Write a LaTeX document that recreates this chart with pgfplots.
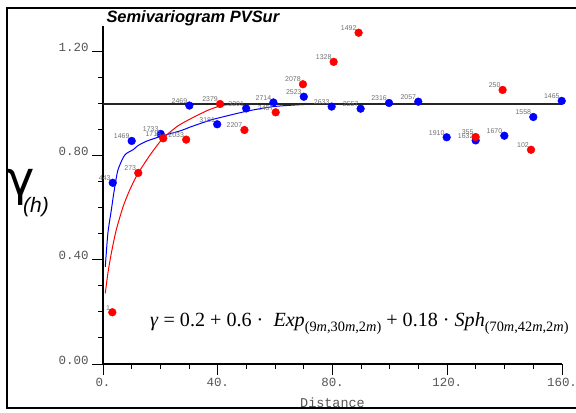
\documentclass[border=0pt]{standalone}
\usepackage{fontspec}
\usepackage{pgfplots}
\pgfplotsset{compat=1.18}
\newfontfamily\lsans{Liberation Sans}
\newfontfamily\lmono{Liberation Mono}
\newfontfamily\lserif{Liberation Serif}
\newfontfamily\dvsans{DejaVu Sans}
\definecolor{tickgray}{HTML}{555555}
\definecolor{labgray}{HTML}{707070}
\newcommand{\sub}[1]{\raisebox{-4.8bp}{\fontsize{14.4}{16}\selectfont #1}}
\pgfplotstableread{
x y lab
3.4 0.697 443
10.0 0.858 1469
20.1 0.885 1733
30.1 0.994 2469
39.8 0.922 3181
49.9 0.983 3201
59.4 1.006 2714
70.0 1.028 2523
79.7 0.990 2633
89.8 0.982 2557
99.7 1.004 2316
109.9 1.009 2057
119.8 0.872 1910
129.9 0.860 1632
139.9 0.878 1670
150.0 0.950 1558
159.9 1.012 1465
}\bluepts
\pgfplotstableread{
x y lab
3.25 0.199 1
12.3 0.735 273
21.0 0.868 1716
29.0 0.863 2033
40.8 1.000 2379
49.3 0.900 2207
60.2 0.968 2457
69.7 1.076 2078
80.4 1.162 1328
89.1 1.274 1492
129.9 0.873 355
139.3 1.054 250
149.2 0.824 102
}\redpts
\begin{document}
\begin{tikzpicture}
\path[use as bounding box] (0bp,0bp) rectangle (576bp,413bp);
\draw[line width=2bp] (7bp,5bp) rectangle (584bp,405bp);
\begin{axis}[
  at={(103bp,49bp)}, anchor=south west,
  scale only axis, width=459bp, height=338bp,
  xmin=0, xmax=160, ymin=0, ymax=1.3,
  axis x line=bottom, axis y line=left,
  axis line style={line width=1.6bp, -},
  tick align=outside,
  xtick={0,40,80,120,160}, xticklabels={0.,40.,80.,120.,160.},
  ytick={0,0.4,0.8,1.2}, yticklabels={0.00,0.40,0.80,1.20},
  minor x tick num=3, minor y tick num=3,
  major tick length=11bp, minor tick length=5bp,
  tick style={black, line width=1bp},
  ticklabel style={font=\lmono\fontsize{12.5}{14}\selectfont, text=tickgray},
  yticklabel style={anchor=base east},
  xlabel={Distance},
  xlabel style={font=\lmono\fontsize{13.5}{15}\selectfont, text=tickgray, at={(axis description cs:0.5,0)}, anchor=center, yshift=-39bp},
  clip=false,
  every node near coord/.append style={font=\lsans\fontsize{7}{8}\selectfont, text=labgray, anchor=south east, inner sep=0pt, xshift=-2bp, yshift=2bp},
]
\addplot[blue, line width=1bp, smooth, tension=0.4] coordinates {
(0.8,0.374) (1.7,0.503) (2.9,0.592) (3.8,0.660) (5.2,0.746) (7.6,0.804) (10.6,0.825) (12.2,0.840) (15.2,0.857) (20.3,0.876) (27.3,0.898) (30.3,0.911) (36.6,0.935) (39.8,0.945) (50,0.972) (59.4,0.990) (70,0.998) (80,1.0)};
\addplot[red, line width=1bp, smooth, tension=0.4] coordinates {
(0.8,0.272) (1.7,0.349) (2.9,0.426) (4.6,0.515) (7.0,0.605) (9.3,0.669) (12.2,0.733) (16.8,0.810) (20.9,0.868) (26,0.915) (30,0.940) (33,0.957) (37,0.978) (41,0.993) (45,0.999) (50,1.0) (60,1.0)};
\addplot[black!85, line width=1.2bp] coordinates {(0,1) (160,1)};
\addplot[only marks, mark=*, mark size=3.9pt, blue, mark options={draw=blue, fill=blue},
  nodes near coords, point meta=explicit symbolic] table[x=x, y=y, meta=lab] {\bluepts};
\addplot[only marks, mark=*, mark size=3.9pt, red, mark options={draw=red, fill=red},
  nodes near coords, point meta=explicit symbolic] table[x=x, y=y, meta=lab] {\redpts};
\end{axis}
\node[anchor=base west] at (103bp,390bp) {\lsans\bfseries\itshape\fontsize{16.5}{18}\selectfont Semivariogram PVSur};
\node[anchor=base west, inner sep=0pt] at (6bp,217bp) {\dvsans\fontsize{48}{48}\selectfont γ};
\node[anchor=base west, inner sep=0pt] at (23bp,200bp) {\lsans\itshape\fontsize{21}{21}\selectfont (h)};
\node[anchor=base west, inner sep=0pt] at (150bp,86bp) {\lserif\fontsize{20.2}{23}\selectfont \textit{γ} = 0.2 + 0.6 ·~ \textit{Exp}\sub{(9\textit{m},30\textit{m},2\textit{m})} + 0.18 · \textit{Sph}\sub{(70\textit{m},42\textit{m},2\textit{m})}};
\end{tikzpicture}
\end{document}
